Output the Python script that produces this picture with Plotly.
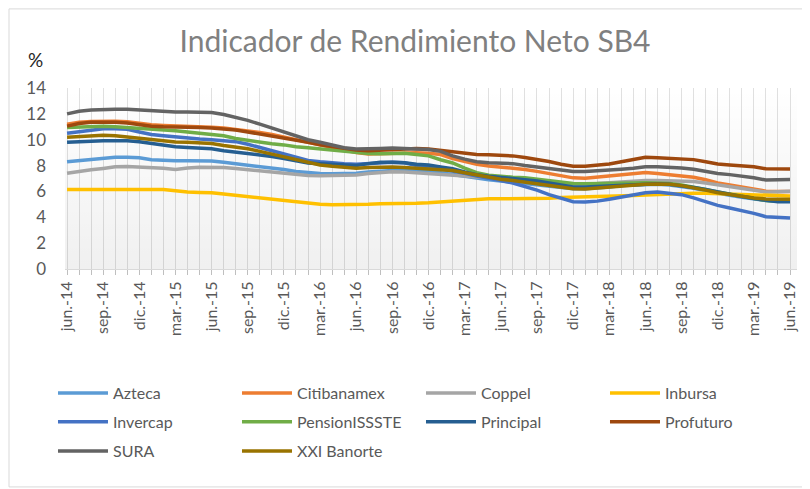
import plotly.graph_objects as go

# eje de meses (jun-14 a jun-19)
meses_es = ["ene.", "feb.", "mar.", "abr.", "may.", "jun.", "jul.", "ago.", "sep.", "oct.", "nov.", "dic."]
meses = []
for k in range(61):
    m = (5 + k) % 12
    a = 14 + (5 + k) // 12
    meses.append(f"{meses_es[m]}-{a}")

azteca = [8.3, 8.4, 8.5, 8.6, 8.64, 8.64, 8.6, 8.45, 8.4, 8.38, 8.38, 8.38, 8.35, 8.25, 8.15, 8.05,
          7.95, 7.85, 7.7, 7.55, 7.45, 7.38, 7.36, 7.36, 7.4, 7.5, 7.58, 7.62, 7.62, 7.6, 7.55,
          7.45, 7.3, 7.15, 7.0, 6.9, 6.8, 6.7, 6.6, 6.5, 6.4, 6.3, 6.2, 6.2, 6.25, 6.35,
          6.45, 6.5, 6.55, 6.55, 6.5, 6.4, 6.25, 6.05, 5.85, 5.7, 5.55, 5.4, 5.3, 5.25, 5.25]
citibanamex = [11.2, 11.35, 11.4, 11.42, 11.42, 11.38, 11.25, 11.15, 11.1, 11.08, 11.05, 11.02, 10.97, 10.9, 10.8, 10.68,
               10.55, 10.4, 10.2, 10.0, 9.8, 9.55, 9.35, 9.15, 9.0, 8.9, 8.92, 8.98, 9.02, 9.0, 8.95,
               8.85, 8.55, 8.3, 8.1, 7.97, 7.9, 7.82, 7.7, 7.55, 7.4, 7.2, 7.05, 7.02, 7.1, 7.2,
               7.25, 7.38, 7.47, 7.38, 7.28, 7.2, 7.1, 6.9, 6.66, 6.5, 6.33, 6.15, 6.02, 6.0, 6.0]
coppel = [7.4, 7.55, 7.68, 7.78, 7.9, 7.92, 7.88, 7.85, 7.8, 7.7, 7.82, 7.87, 7.87, 7.85, 7.78, 7.68,
          7.58, 7.5, 7.4, 7.3, 7.23, 7.22, 7.22, 7.22, 7.28, 7.38, 7.45, 7.52, 7.5, 7.45, 7.4,
          7.32, 7.25, 7.2, 7.12, 7.08, 7.03, 7.0, 6.92, 6.84, 6.72, 6.62, 6.58, 6.58, 6.62, 6.68,
          6.75, 6.8, 6.84, 6.85, 6.83, 6.8, 6.77, 6.65, 6.5, 6.35, 6.2, 6.05, 5.95, 5.98, 6.02]
inbursa = [6.15, 6.15, 6.15, 6.15, 6.15, 6.15, 6.15, 6.15, 6.15, 6.05, 5.95, 5.92, 5.9, 5.8, 5.7, 5.62,
           5.52, 5.43, 5.3, 5.2, 5.1, 5.0, 4.97, 4.97, 4.97, 5.0, 5.05, 5.05, 5.05, 5.08, 5.12,
           5.18, 5.25, 5.33, 5.4, 5.43, 5.43, 5.43, 5.43, 5.43, 5.48, 5.54, 5.56, 5.56, 5.56, 5.58,
           5.62, 5.68, 5.72, 5.76, 5.8, 5.84, 5.86, 5.85, 5.82, 5.78, 5.72, 5.68, 5.65, 5.65, 5.65]
invercap = [10.5, 10.6, 10.75, 10.85, 10.85, 10.8, 10.6, 10.4, 10.3, 10.2, 10.12, 10.05, 10.0, 9.95, 9.85, 9.65,
            9.4, 9.1, 8.85, 8.6, 8.4, 8.3, 8.2, 8.15, 8.1, 8.15, 8.2, 8.25, 8.22, 8.0, 7.9,
            7.75, 7.55, 7.4, 7.2, 7.05, 6.85, 6.65, 6.4, 6.1, 5.75, 5.45, 5.2, 5.18, 5.25, 5.4,
            5.55, 5.75, 5.9, 5.95, 5.88, 5.75, 5.5, 5.2, 4.92, 4.72, 4.54, 4.3, 4.05, 3.97, 3.95]
pension = [10.95, 11.0, 11.05, 11.05, 11.0, 10.95, 10.88, 10.82, 10.78, 10.7, 10.6, 10.5, 10.42, 10.3, 10.1, 9.95,
           9.8, 9.68, 9.6, 9.45, 9.38, 9.28, 9.2, 9.08, 9.0, 8.93, 8.92, 8.96, 8.95, 8.85, 8.75,
           8.45, 8.2, 7.8, 7.45, 7.25, 7.15, 7.1, 7.05, 6.95, 6.85, 6.7, 6.62, 6.6, 6.6, 6.62,
           6.62, 6.65, 6.68, 6.68, 6.62, 6.5, 6.35, 6.15, 5.95, 5.78, 5.6, 5.45, 5.3, 5.25, 5.25]
principal = [9.8, 9.85, 9.9, 9.92, 9.92, 9.92, 9.85, 9.7, 9.6, 9.45, 9.4, 9.35, 9.3, 9.15, 9.05, 8.95,
             8.85, 8.7, 8.55, 8.35, 8.2, 8.15, 8.1, 8.0, 8.0, 8.15, 8.25, 8.25, 8.22, 8.1, 8.05,
             7.9, 7.75, 7.5, 7.3, 7.18, 7.1, 7.0, 6.9, 6.8, 6.65, 6.5, 6.35, 6.35, 6.4, 6.45,
             6.5, 6.55, 6.6, 6.6, 6.55, 6.45, 6.3, 6.15, 5.95, 5.75, 5.6, 5.45, 5.3, 5.2, 5.2]
profuturo = [11.05, 11.25, 11.35, 11.38, 11.35, 11.3, 11.15, 11.05, 11.0, 11.0, 10.97, 10.95, 10.9, 10.85, 10.75, 10.6,
             10.45, 10.3, 10.1, 9.95, 9.8, 9.6, 9.45, 9.3, 9.2, 9.15, 9.2, 9.25, 9.3, 9.32, 9.28,
             9.18, 9.08, 8.95, 8.86, 8.83, 8.82, 8.75, 8.62, 8.5, 8.32, 8.1, 7.95, 7.94, 8.0, 8.12,
             8.3, 8.5, 8.64, 8.6, 8.56, 8.52, 8.46, 8.3, 8.12, 8.05, 8.0, 7.9, 7.75, 7.74, 7.74]
sura = [12.0, 12.2, 12.3, 12.35, 12.35, 12.35, 12.3, 12.2, 12.15, 12.15, 12.15, 12.15, 12.1, 11.95, 11.75, 11.5,
        11.2, 10.9, 10.6, 10.3, 10.0, 9.8, 9.6, 9.38, 9.28, 9.28, 9.32, 9.36, 9.34, 9.28, 9.25,
        9.1, 8.75, 8.5, 8.3, 8.22, 8.2, 8.15, 8.0, 7.9, 7.8, 7.65, 7.55, 7.54, 7.58, 7.65,
        7.72, 7.8, 7.9, 7.9, 7.87, 7.82, 7.72, 7.55, 7.38, 7.3, 7.2, 7.05, 6.88, 6.9, 6.92]
xxi_banorte = [10.2, 10.25, 10.3, 10.35, 10.3, 10.2, 10.1, 10.0, 9.9, 9.82, 9.8, 9.78, 9.7, 9.55, 9.45, 9.3,
               9.1, 8.9, 8.7, 8.45, 8.25, 8.05, 7.95, 7.85, 7.8, 7.85, 7.88, 7.88, 7.85, 7.8, 7.72,
               7.7, 7.62, 7.45, 7.28, 7.1, 6.95, 6.85, 6.72, 6.6, 6.5, 6.35, 6.2, 6.18, 6.25, 6.35,
               6.45, 6.5, 6.55, 6.58, 6.55, 6.45, 6.3, 6.1, 5.9, 5.75, 5.62, 5.5, 5.42, 5.4, 5.4]

series = [
    ("Azteca", azteca, "#5B9BD5"),
    ("Citibanamex", citibanamex, "#ED7D31"),
    ("Coppel", coppel, "#A5A5A5"),
    ("Inbursa", inbursa, "#FFC000"),
    ("Invercap", invercap, "#4472C4"),
    ("PensionISSSTE", pension, "#70AD47"),
    ("Principal", principal, "#255E91"),
    ("Profuturo", profuturo, "#9E480E"),
    ("SURA", sura, "#636363"),
    ("XXI Banorte", xxi_banorte, "#997300"),
]

x = list(range(len(meses)))
x_rango = [-0.17, 60.58]
fuente = "Lato"

fig = go.Figure()

# fondo degradado del área de trazado
fig.add_trace(go.Scatter(
    x=x_rango, y=[14, 14], mode="none", fill="tozeroy",
    fillgradient=dict(type="vertical", start=0, stop=14,
                      colorscale=[[0, "rgba(0,0,0,0.06)"], [1, "rgba(0,0,0,0)"]]),
    showlegend=False, hoverinfo="skip"))

leyendas = ["legend"] * 4 + ["legend2"] * 4 + ["legend3"] * 2
for (nombre, valores, color), ley in zip(series, leyendas):
    fig.add_trace(go.Scatter(
        x=x, y=valores, name=nombre, mode="lines",
        line=dict(color=color, width=3.5),
        legend=ley,
        hovertemplate="%{text}<br>" + nombre + ": %{y:.2f}<extra></extra>",
        text=meses))

fig.update_xaxes(
    range=x_rango,
    tickmode="array", tickvals=x[::3], ticktext=meses[::3],
    tickangle=-90, tickfont=dict(family=fuente, size=16, color="#595959"),
    ticks="outside", ticklen=5, tickcolor="#BFBFBF",
    showgrid=True, gridcolor="#E0E0E0", gridwidth=1,
    minor=dict(tickmode="linear", tick0=0, dtick=1, showgrid=True,
               gridcolor="#E0E0E0", ticks="outside", ticklen=5, tickcolor="#BFBFBF"),
    showline=True, linecolor="#D9D9D9", zeroline=False,
)
fig.update_yaxes(
    range=[0, 14], tickvals=list(range(0, 15, 2)),
    tickfont=dict(family=fuente, size=17, color="#595959"),
    showgrid=False, zeroline=False, showline=False,
    ticklabelstandoff=18,
)

ley_base = dict(orientation="h", xanchor="left", yanchor="middle", x=-0.0164,
                entrywidth=119, entrywidthmode="pixels", itemwidth=50,
                font=dict(family=fuente, size=16, color="#595959"),
                bgcolor="rgba(0,0,0,0)")

fig.update_layout(
    width=810, height=489,
    margin=dict(l=57, r=21, t=80, b=228, autoexpand=False),
    paper_bgcolor="white", plot_bgcolor="white",
    title=dict(text="Indicador de Rendimiento Neto SB4", x=0.5025, xref="container",
               y=0.9305, yref="container", xanchor="center", yanchor="middle",
               font=dict(family=fuente, size=30, color="#808080")),
    legend=dict(ley_base, y=-0.685),
    legend2=dict(ley_base, y=-0.845),
    legend3=dict(ley_base, y=-1.006),
    annotations=[dict(text="%", xref="paper", yref="paper", x=-0.04, y=1.1547,
                      xanchor="center", yanchor="middle",
                      showarrow=False, font=dict(family=fuente, size=19, color="#262626"))],
    shapes=[dict(type="rect", xref="paper", yref="paper", x0=-0.0765, x1=1.011,
                 y0=-1.204, y1=1.437, line=dict(color="#D9D9D9", width=1), layer="below")],
)

fig.write_html("out.html")
